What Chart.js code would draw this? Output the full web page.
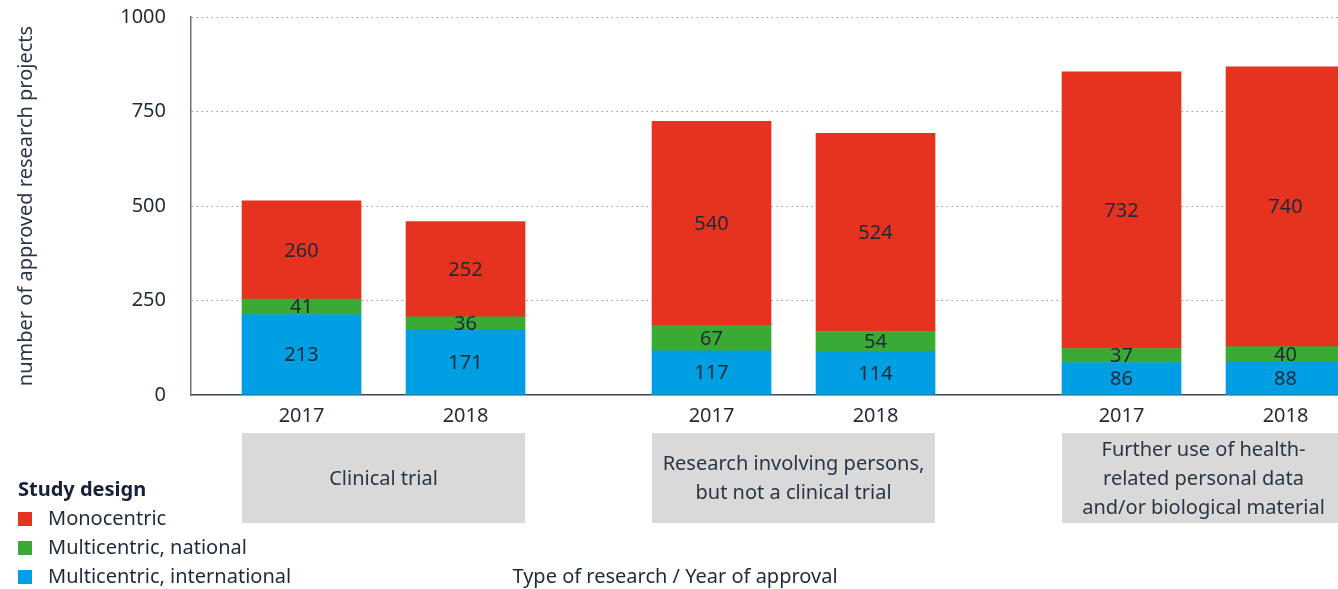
<!DOCTYPE html>
<html lang="en">
<head>
    <meta charset="UTF-8">
    <title>Approved research projects by study design</title>
    <script src="https://cdn.jsdelivr.net/npm/chart.js"></script>
    <style>
        html, body { margin: 0; padding: 0; background: #fff; }
        #wrap { width: 1338px; height: 589px; position: relative; }
    </style>
</head>
<body>
    <div id="wrap"><canvas id="chartCanvas"></canvas></div>

    <script>
        // values
        const years = ['2017', '2018', '2017', '2018', '2017', '2018'];
        const xPositions = [0, 1, 2.5, 3.5, 5, 6];
        const groupLabels = [
            ['Clinical trial'],
            ['Research involving persons,', 'but not a clinical trial'],
            ['Further use of health-', 'related personal data', 'and/or biological material']
        ];
        const international = [213, 171, 117, 114, 86, 88];
        const national = [41, 36, 67, 54, 37, 40];
        const monocentric = [260, 252, 540, 524, 732, 740];
        const yTicks = [0, 250, 500, 750, 1000];

        const FONT = '"Noto Sans", "Liberation Sans", sans-serif';
        const FS = 20;
        const TEXT = '#1f2a38';
        const colors = { mono: '#e5331f', nat: '#3aaa35', intl: '#009fe3' };

        const toPoints = arr => arr.map((v, i) => ({ x: xPositions[i], y: v }));

        const extras = {
            id: 'extras',
            afterDatasetsDraw(chart) {
                const ctx = chart.ctx;
                ctx.save();
                ctx.fillStyle = TEXT;
                ctx.font = FS + 'px ' + FONT;
                ctx.textAlign = 'center';
                ctx.textBaseline = 'middle';
                chart.data.datasets.forEach((ds, di) => {
                    chart.getDatasetMeta(di).data.forEach((bar, i) => {
                        const p = bar.getProps(['x', 'y', 'base'], true);
                        ctx.fillText(String(ds.data[i].y), p.x, (p.y + p.base) / 2 + 1);
                    });
                });
                ctx.restore();
            },
            afterDraw(chart) {
                const ctx = chart.ctx;
                const xs = chart.scales.x;
                const half = 59.5;
                ctx.save();

                // group boxes
                groupLabels.forEach((lines, g) => {
                    const l = xs.getPixelForValue(xPositions[g * 2]) - half;
                    const r = xs.getPixelForValue(xPositions[g * 2 + 1]) + half;
                    ctx.fillStyle = '#d9d9d9';
                    ctx.fillRect(l, 433, r - l, 90);
                    ctx.fillStyle = '#2b3644';
                    ctx.font = FS + 'px ' + FONT;
                    ctx.textAlign = 'center';
                    ctx.textBaseline = 'middle';
                    const lh = 29;
                    const y0 = 479 - (lines.length - 1) * lh / 2;
                    lines.forEach((t, k) => ctx.fillText(t, (l + r) / 2, y0 + k * lh));
                });

                // legend
                ctx.textAlign = 'left';
                ctx.textBaseline = 'middle';
                ctx.fillStyle = '#15213a';
                ctx.font = 'bold ' + FS + 'px ' + FONT;
                ctx.fillText('Study design', 18, 490);
                ctx.font = FS + 'px ' + FONT;
                const items = [['Monocentric', colors.mono], ['Multicentric, national', colors.nat], ['Multicentric, international', colors.intl]];
                items.forEach((it, k) => {
                    const y = 519 + k * 29;
                    ctx.fillStyle = it[1];
                    ctx.fillRect(18, y - 7, 14, 14);
                    ctx.fillStyle = TEXT;
                    ctx.fillText(it[0], 48, y);
                });

                // x title
                ctx.textAlign = 'center';
                ctx.fillText('Type of research / Year of approval', 675, 577);
                ctx.restore();
            }
        };

        const ctx = document.getElementById('chartCanvas').getContext('2d');
        new Chart(ctx, {
            type: 'bar',
            data: {
                datasets: [
                    { label: 'Multicentric, international', data: toPoints(international), backgroundColor: colors.intl },
                    { label: 'Multicentric, national', data: toPoints(national), backgroundColor: colors.nat },
                    { label: 'Monocentric', data: toPoints(monocentric), backgroundColor: colors.mono }
                ]
            },
            options: {
                responsive: true,
                maintainAspectRatio: false,
                animation: false,
                layout: { padding: { top: 17, right: 0, bottom: 0, left: 0 } },
                datasets: { bar: { barThickness: 119, grouped: false } },
                plugins: {
                    legend: { display: false },
                    tooltip: { enabled: false }
                },
                scales: {
                    x: {
                        type: 'linear',
                        stacked: true,
                        offset: false,
                        min: -0.674,
                        max: 6.32,
                        afterFit: s => { s.height = 194; s.paddingLeft = 0; s.paddingRight = 0; },
                        afterBuildTicks: s => { s.ticks = xPositions.map(v => ({ value: v })); },
                        grid: { display: false, drawTicks: false },
                        border: { display: true, color: '#3a4658', width: 1.5 },
                        ticks: {
                            autoSkip: false,
                            maxRotation: 0,
                            padding: 9,
                            color: TEXT,
                            font: { family: FONT, size: FS },
                            callback: (v, i) => years[i]
                        }
                    },
                    y: {
                        stacked: true,
                        min: 0,
                        max: 1000,
                        afterFit: s => { s.width = 191; s.paddingTop = 0; s.paddingBottom = 0; },
                        afterBuildTicks: s => { s.ticks = yTicks.map(v => ({ value: v })); },
                        grid: {
                            color: c => c.tick && c.tick.value === 0 ? 'rgba(0,0,0,0)' : '#9a9a9a',
                            drawTicks: false,
                            lineWidth: 1
                        },
                        border: { display: true, color: '#6b7280', width: 1.5, dash: [1.5, 3.5] },
                        ticks: {
                            padding: 25,
                            color: TEXT,
                            font: { family: FONT, size: FS },
                            callback: v => String(v)
                        },
                        title: {
                            display: true,
                            text: 'number of approved research projects',
                            color: '#2b3644',
                            font: { family: FONT, size: FS },
                            padding: { top: 14, bottom: 0 }
                        }
                    }
                }
            },
            plugins: [extras]
        });
    </script>
</body>
</html>
